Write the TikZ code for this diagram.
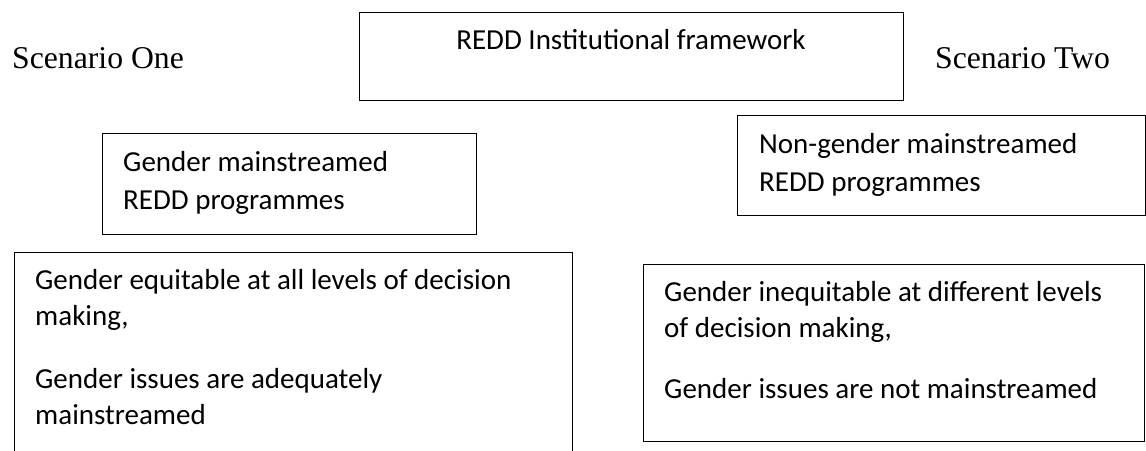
\documentclass[tikz,border=0pt]{standalone}
\usepackage{fontspec}
\newfontfamily\calfont{Carlito}
\newfontfamily\tnrfont{Liberation Serif}
\begin{document}
\begin{tikzpicture}[x=1pt,y=-1pt,
  box/.style={draw=black, line width=1.4pt, inner sep=0pt, anchor=north west},
  txt/.style={inner sep=0pt, anchor=base west, font=\calfont\fontsize{29}{38}\selectfont},
  serif/.style={inner sep=0pt, anchor=base west, font=\tnrfont\fontsize{31.7}{38}\selectfont}]
\useasboundingbox (0,0) rectangle (1146,450);
\clip (0,0) rectangle (1146,450);
% top row
\node[serif] (s1) at (12,68) {Scenario One};
\node[serif] (s2) at (935,68) {Scenario Two};
\node[box, minimum width=544pt, minimum height=88pt] (top) at (359,12) {};
\node[txt, anchor=base] (toptxt) at (631,49) {REDD Institutional framework};
% programme boxes
\node[box, minimum width=374pt, minimum height=101pt] (gm) at (102,133) {};
\node[txt] (gm1) at (123,171) {Gender mainstreamed};
\node[txt] (gm2) at (123,209) {REDD programmes};
\node[box, minimum width=408pt, minimum height=100pt] (ngm) at (737,115) {};
\node[txt] (ngm1) at (759,153) {Non-gender mainstreamed};
\node[txt] (ngm2) at (759,191) {REDD programmes};
% outcome boxes
\node[box, minimum width=558pt, minimum height=230pt] (eq) at (14,252) {};
\node[txt] (eq1) at (35,289) {Gender equitable at all levels of decision};
\node[txt] (eq2) at (35,325) {making,};
\node[txt] (eq3) at (35,388) {Gender issues are adequately};
\node[txt] (eq4) at (35,424) {mainstreamed};
\node[box, minimum width=501pt, minimum height=177pt] (ineq) at (643,264) {};
\node[txt] (ineq1) at (664,301) {Gender inequitable at different levels};
\node[txt] (ineq2) at (664,337) {of decision making,};
\node[txt] (ineq3) at (664,398) {Gender issues are not mainstreamed};
\end{tikzpicture}
\end{document}
